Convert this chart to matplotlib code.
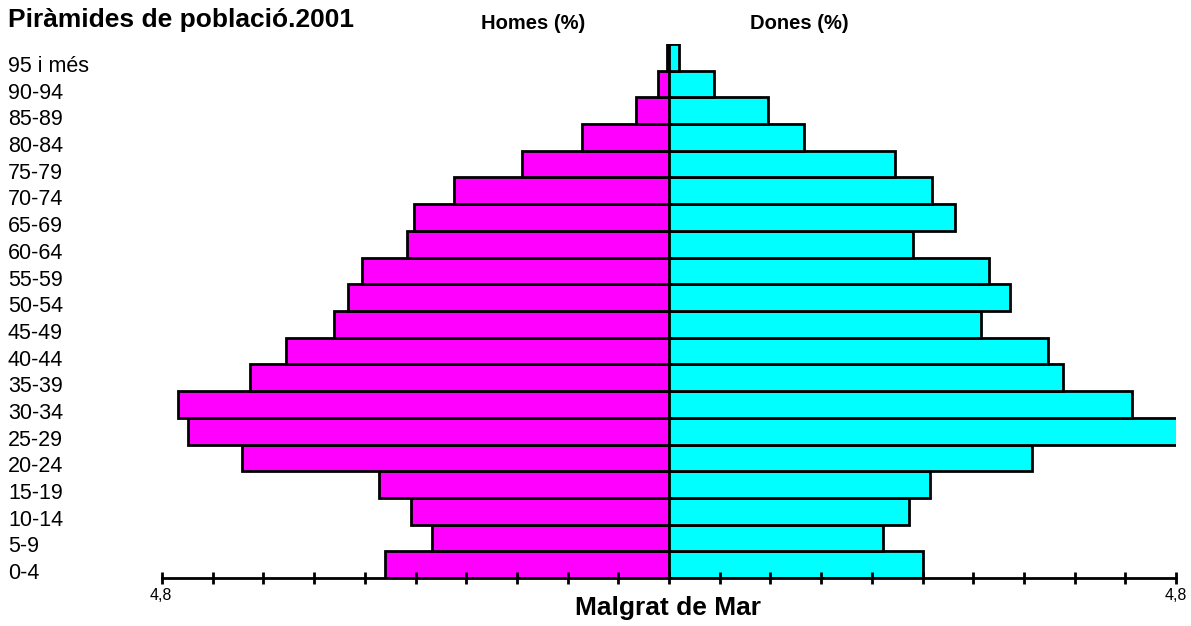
import numpy as np
import matplotlib.pyplot as plt

plt.rcParams['font.family'] = ['Liberation Sans', 'DejaVu Sans']

groups = ['0-4', '5-9', '10-14', '15-19', '20-24', '25-29', '30-34', '35-39',
          '40-44', '45-49', '50-54', '55-59', '60-64', '65-69', '70-74',
          '75-79', '80-84', '85-89', '90-94', '95 i més']
homes = [2.69, 2.24, 2.44, 2.75, 4.04, 4.55, 4.65, 3.97, 3.63, 3.17,
         3.04, 2.91, 2.48, 2.41, 2.04, 1.39, 0.82, 0.31, 0.10, 0.02]
dones = [2.40, 2.03, 2.27, 2.47, 3.44, 4.81, 4.38, 3.73, 3.59, 2.95,
         3.23, 3.03, 2.31, 2.71, 2.49, 2.14, 1.28, 0.94, 0.43, 0.09]
xmax = 4.8

W, H = 1191, 626
fig = plt.figure(figsize=(W / 100, H / 100), dpi=100)
ax = fig.add_axes([162 / W, 48 / H, 1014 / W, 534 / H])

y = np.arange(len(groups))
ax.barh(y, [-h for h in homes], height=1, color='#FF00FF', edgecolor='black', linewidth=2)
ax.barh(y, dones, height=1, color='#00FFFF', edgecolor='black', linewidth=2)

ax.set_xlim(-xmax, xmax)
ax.set_ylim(-0.5, len(groups) - 0.5)
for s in ['top', 'left', 'right']:
    ax.spines[s].set_visible(False)
ax.spines['bottom'].set_linewidth(2)
ax.set_yticks([])
ticks = np.linspace(-xmax, xmax, 21)
ax.set_xticks(ticks)
ax.set_xticklabels(['' for t in ticks])
ax.tick_params(axis='x', direction='inout', length=9, width=2)

def px(xp, yp):
    return xp / W, 1 - yp / H

fig.text(*px(161, 600), '4,8', ha='center', va='baseline', fontsize=11.5)
fig.text(*px(1176, 600), '4,8', ha='center', va='baseline', fontsize=11.5)

# row labels in the left margin
for i, g in enumerate(groups):
    fig.text(*px(8, 579 - i * 26.68), g, ha='left', va='baseline', fontsize=15.5)

fig.text(*px(8, 27), 'Piràmides de població.2001', ha='left', va='baseline',
         fontsize=19, fontweight='bold')
fig.text(*px(533, 29), 'Homes (%)', ha='center', va='baseline', fontsize=14.5, fontweight='bold')
fig.text(*px(799, 29), 'Dones (%)', ha='center', va='baseline', fontsize=14.5, fontweight='bold')
fig.text(*px(668, 615), 'Malgrat de Mar', ha='center', va='baseline', fontsize=19, fontweight='bold')

fig.savefig('out.png', dpi=100)
